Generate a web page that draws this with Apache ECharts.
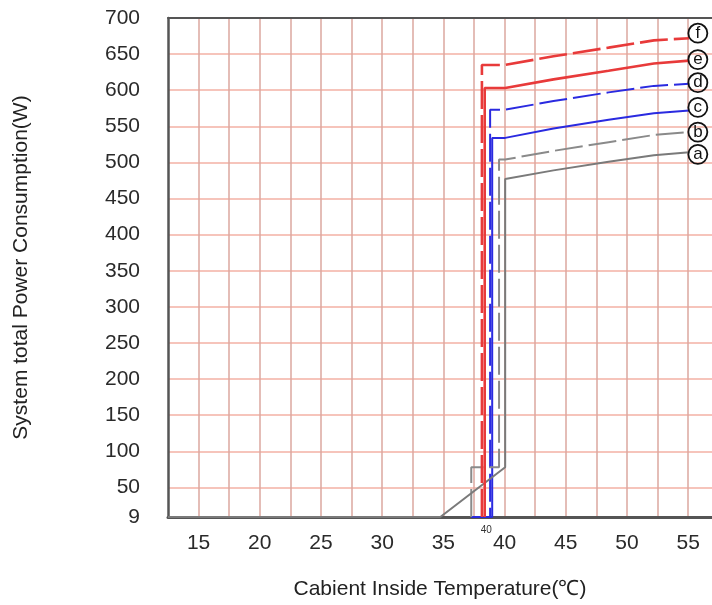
<!DOCTYPE html>
<html><head><meta charset="utf-8">
<script src="https://cdn.jsdelivr.net/npm/echarts@6/dist/echarts.min.js"></script>
<style>html,body{margin:0;padding:0;background:#fff}#c{width:712px;height:605px}</style>
</head><body><div id="c"></div>
<script>
// ---- data ----
const xTickLabels = [15, 20, 25, 30, 35, 40, 45, 50, 55];
const xGridValues = [15, 17.5, 20, 22.5, 25, 27.5, 30, 32.5, 35, 37.5, 40, 42.5, 45, 47.5, 50, 52.5, 55];
const yTickLabels = [9, 50, 100, 150, 200, 250, 300, 350, 400, 450, 500, 550, 600, 650, 700];
const curveNames = ['f', 'e', 'd', 'c', 'b', 'a'];
const curveF = [[38.15, 9], [38.15, 635], [40.05, 635], [44, 647], [48.5, 659], [52.2, 669], [55.1, 672]];
const curveE = [[38.38, 9], [38.38, 603], [40.05, 603], [44, 615], [48.5, 627], [52.2, 637], [55.1, 641]];
const curveD = [[37.28, 9], [38.82, 9], [38.82, 573], [40.05, 573], [44, 585], [48.5, 597], [52.2, 606], [55.1, 609]];
const curveC = [[37.28, 9], [38.99, 9], [38.99, 534], [40.05, 534], [44, 547], [48.5, 559], [52.2, 568], [55.1, 572]];
const curveB = [[37.28, 9], [37.28, 78], [39.55, 78], [39.55, 504], [40.05, 504], [44, 516], [48.5, 528], [52.2, 538], [55.1, 542]];
const curveA = [[12.5, 9], [34.75, 9], [40.05, 78], [40.05, 477], [44, 489], [48.5, 501], [52.2, 510], [55.1, 514]];
const smallNote = {text: '40', x: 38.5, y: 9};

// ---- styles ----
const FONT = 'Liberation Sans, Arial, sans-serif';
const styles = {
  f: {color: '#e83a3a', dash: [28, 6], dy: -5},
  e: {color: '#e83a3a', dash: 'solid', dy: -1},
  d: {color: '#2a2ae0', dash: [28, 6], dy: -1},
  c: {color: '#2a2ae0', dash: 'solid', dy: -3},
  b: {color: '#8a8a8a', dash: [28, 6], dy: 0},
  a: {color: '#7a7a7a', dash: 'solid', dy: 2}
};
const curves = {f: curveF, e: curveE, d: curveD, c: curveC, b: curveB, a: curveA};

const chart = echarts.init(document.getElementById('c'));
const series = curveNames.map(n => ({
  type: 'line', name: n, data: curves[n], symbol: 'none', animation: false,
  lineStyle: {color: styles[n].color, width: n === 'f' || n === 'e' ? 2.6 : 2, type: styles[n].dash},
  z: n === 'f' || n === 'e' ? 4 : 3,
  endLabel: {
    show: true, distance: 0, offset: [-1, styles[n].dy],
    formatter: '{c|' + n + '}',
    rich: {c: {width: 19, height: 19, lineHeight: 19, align: 'center', fontSize: 17,
      fontFamily: FONT, color: '#111', borderColor: '#111', borderWidth: 1.8, borderRadius: 11}}
  }
}));

chart.setOption({
  animation: false,
  backgroundColor: '#fff',
  grid: {left: 168, top: 18, right: 0, bottom: 86, show: false},
  xAxis: [{
    type: 'value', min: 12.5, max: 56.95,
    name: 'Cabient Inside Temperature(℃)', nameLocation: 'middle', nameGap: 62,
    nameTextStyle: {fontSize: 21, color: '#222', fontFamily: FONT},
    axisLine: {show: true, onZero: false, lineStyle: {color: '#555', width: 3}},
    axisTick: {show: false, customValues: xGridValues},
    axisLabel: {customValues: xTickLabels, fontSize: 21, color: '#2a2a2a', fontFamily: FONT, margin: 16},
    splitLine: {show: true, lineStyle: {color: '#dba79f', width: 1.5}}
  }, {
    type: 'value', position: 'top', min: 12.5, max: 56.95,
    axisLine: {show: true, onZero: false, lineStyle: {color: '#555', width: 2}},
    axisTick: {show: false}, axisLabel: {show: false}, splitLine: {show: false}
  }],
  yAxis: {
    type: 'value', min: 9, max: 700,
    name: 'System total Power Consumption(W)', nameLocation: 'middle', nameGap: 136, nameRotate: 90,
    nameTextStyle: {fontSize: 21, color: '#222', fontFamily: FONT},
    axisLine: {show: true, onZero: false, lineStyle: {color: '#555', width: 2.5}},
    axisTick: {show: false, customValues: yTickLabels},
    axisLabel: {customValues: yTickLabels, fontSize: 21, color: '#2a2a2a', fontFamily: FONT, margin: 28},
    splitLine: {show: true, lineStyle: {color: '#f3b0a5', width: 1.5}}
  },
  series: series
});

const p = chart.convertToPixel({xAxisIndex: 0, yAxisIndex: 0}, [smallNote.x, smallNote.y]);
chart.setOption({graphic: [{type: 'text', x: p[0], y: p[1] + 8, style: {text: smallNote.text, fontSize: 10, fill: '#333', fontFamily: FONT, align: 'center'}}]});
</script></body></html>
